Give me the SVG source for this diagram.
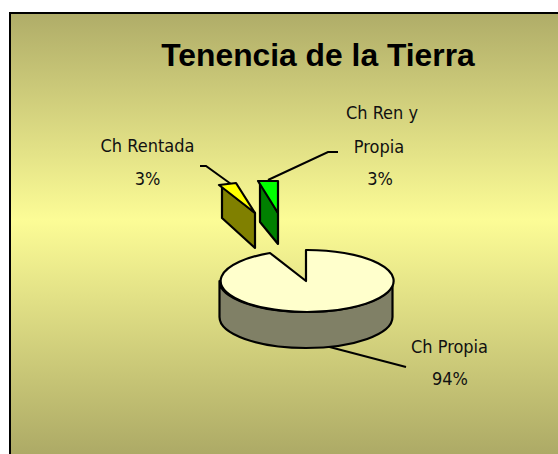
<svg xmlns="http://www.w3.org/2000/svg" width="558" height="454" viewBox="0 0 558 454">
  <defs>
    <linearGradient id="bg" x1="0" y1="12" x2="0" y2="454" gradientUnits="userSpaceOnUse">
      <stop offset="0" stop-color="#afac68"/>
      <stop offset="0.47" stop-color="#fcfc96"/>
      <stop offset="1" stop-color="#adaa66"/>
    </linearGradient>
    <style>
      .lbl { font-family: "DejaVu Sans Condensed", "DejaVu Sans", sans-serif; font-stretch: condensed; font-size: 18px; fill: #111; text-anchor: middle; }
      .title { font-family: "Liberation Sans", Arial, sans-serif; font-weight: bold; font-size: 31.8px; fill: #000; text-anchor: middle; }
      .edge { stroke: #000; stroke-width: 2.2; stroke-linejoin: round; }
      .lead { fill: none; stroke: #000; stroke-width: 2; }
    </style>
  </defs>
  <rect width="558" height="454" fill="#ffffff"/>
  <rect id="chart-area" x="10" y="13" width="560" height="460" fill="url(#bg)" stroke="#000" stroke-width="2"/>
  <g id="title">
    <text class="title" x="318" y="66">Tenencia de la Tierra</text>
  </g>
  <g id="connectors">
    <polyline class="lead" points="200,166 206,166 231,184"/>
    <polyline class="lead" points="338,152 328,152 268,180"/>
    <polyline class="lead" points="322,345 406,367"/>
  </g>
  <g id="slice-ch-rentada">
    <polygon class="edge" points="222,186 255,213 255,248 222,218" fill="#808000"/>
    <polygon class="edge" points="219,185 236,183 255,213" fill="#ffff00"/>
  </g>
  <g id="slice-ch-ren-y-propia">
    <polygon class="edge" points="260,182 278,213 278,244 260,222" fill="#008000"/>
    <polygon class="edge" points="258,181 278,181 278,213" fill="#00ff00"/>
  </g>
  <g id="slice-ch-propia">
    <path class="edge" d="M219.5,281 A86.5,31 0 0,0 392.5,281 L392.5,317 A86.5,31 0 0,1 219.5,317 Z" fill="#808066"/>
    <path class="edge" d="M306,281 L306,250 A86.5,31 0 1,1 270,253 Z" fill="#ffffcc"/>
  </g>
  <g id="labels">
    <text class="lbl" x="147.5" y="152">Ch Rentada</text>
    <text class="lbl" x="147.5" y="185">3%</text>
    <text class="lbl" x="382" y="119">Ch Ren y</text>
    <text class="lbl" x="379" y="153">Propia</text>
    <text class="lbl" x="380" y="185">3%</text>
    <text class="lbl" x="449.5" y="353">Ch Propia</text>
    <text class="lbl" x="450" y="385">94%</text>
  </g>
</svg>
